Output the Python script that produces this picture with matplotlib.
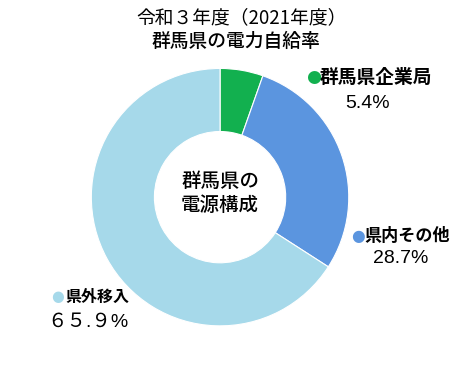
import matplotlib.pyplot as plt

plt.rcParams['font.family'] = ['Noto Sans CJK JP', 'DejaVu Sans']

# data
categories = ['群馬県企業局', '県内その他', '県外移入']
shares = [5.4, 28.7, 65.9]
value_labels = ['5.4%', '28.7%', '６５.９%']
colors = ['#12B04F', '#5B95DF', '#A6D9EA']

fig = plt.figure(figsize=(4.74, 3.68), dpi=100)
ax = fig.add_axes([0.19, 0.111, 0.5485, 0.7065])

ax.pie(shares, colors=colors, startangle=90, counterclock=False,
       wedgeprops=dict(width=0.49, edgecolor='white', linewidth=0.8))
ax.set_xlim(-1.01, 1.01)
ax.set_ylim(-1.01, 1.01)
ax.set_aspect('equal')

# centre text
ax.text(0, 0.03, '群馬県の\n電源構成', ha='center', va='center',
        fontsize=14, fontweight='medium', linespacing=1.3)

# titles
fig.text(0.51, 0.952, '令和３年度（2021年度）', ha='center', va='center',
         fontsize=13.5)
fig.text(0.497, 0.886, '群馬県の電力自給率', ha='center', va='center',
         fontsize=13.5, fontweight='medium')

# labels with coloured bullets
label_pos = [(0.645, 0.79, 0.775, 0.72),
             (0.74, 0.358, 0.845, 0.297),
             (0.108, 0.193, 0.185, 0.125)]
name_sizes = [13.5, 12.3, 11.5]
for name, val, col, fs, (lx, ly, vx, vy) in zip(categories, value_labels, colors,
                                                 name_sizes, label_pos):
    fig.text(lx, ly, '●', color=col, ha='left', va='center', fontsize=fs - 1,
             family=['DejaVu Sans'])
    fig.text(lx + 0.029, ly, name, ha='left', va='center',
             fontsize=fs, fontweight='bold')
    fig.text(vx, vy, val, ha='center', va='center', fontsize=14,
             family=['Liberation Sans', 'Noto Sans CJK JP'])

fig.savefig('out.png', dpi=100, facecolor='white')
